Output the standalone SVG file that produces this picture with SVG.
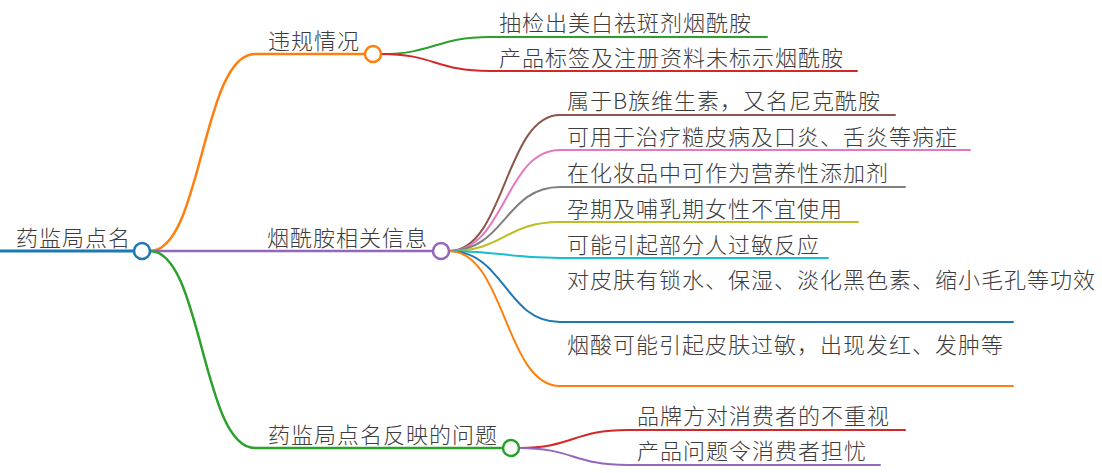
<svg xmlns="http://www.w3.org/2000/svg" width="1102" height="473" viewBox="0 0 1102 473">
<style>
text{font-family:"Noto Sans CJK SC","Noto Sans",sans-serif;font-size:22px;letter-spacing:1px;font-weight:300;fill:#3c3c3c}
.l{fill:none;stroke-linecap:round}
.c{fill:#fff;stroke-width:2.5}
</style>
<rect width="1102" height="473" fill="#fff"/>
<g id="connectors">
<path class="l" d="M0,251 L134,251" stroke="#1f77b4" stroke-width="3"/>
<path class="l" d="M150,251 C202,251 202,54 255,54 L365,54" stroke="#ff7f0e" stroke-width="2.5"/>
<path class="l" d="M150,251 L433,251" stroke="#9467bd" stroke-width="2.5"/>
<path class="l" d="M150,251 C202,251 202,448 255,448 L503,448" stroke="#2ca02c" stroke-width="2.5"/>
<path class="l" d="M381,54 C435,54 435,37 490,37 L767,37" stroke="#2ca02c" stroke-width="2"/>
<path class="l" d="M381,54 C435,54 435,71 490,71 L857,71" stroke="#d62728" stroke-width="2"/>
<path class="l" d="M449,251 C505,251 505,115 560,115 L895,115" stroke="#8c564b" stroke-width="2"/>
<path class="l" d="M449,251 C505,251 505,150 560,150 L970,150" stroke="#e377c2" stroke-width="2"/>
<path class="l" d="M449,251 C505,251 505,187 560,187 L905,187" stroke="#7f7f7f" stroke-width="2"/>
<path class="l" d="M449,251 C505,251 505,222 560,222 L858,222" stroke="#bcbd22" stroke-width="2"/>
<path class="l" d="M449,251 C505,251 505,258 560,258 L828,258" stroke="#17becf" stroke-width="2"/>
<path class="l" d="M449,251 C505,251 505,322 560,322 L1013,322" stroke="#1f77b4" stroke-width="2"/>
<path class="l" d="M449,251 C505,251 505,386 560,386 L1013,386" stroke="#ff7f0e" stroke-width="2"/>
<path class="l" d="M519,448 C573,448 573,430 628,430 L905,430" stroke="#d62728" stroke-width="2"/>
<path class="l" d="M519,448 C573,448 573,465 628,465 L880,465" stroke="#9467bd" stroke-width="2"/>
</g>
<g id="root"><text x="16" y="245.5">药监局点名</text><circle class="c" cx="142" cy="251" r="8" stroke="#1f77b4"/></g>
<g id="n1"><text x="268" y="48.5">违规情况</text><circle class="c" cx="373" cy="54" r="8" stroke="#ff7f0e"/></g>
<g id="n1a"><text x="499" y="31">抽检出美白祛斑剂烟酰胺</text></g>
<g id="n1b"><text x="499" y="65.5">产品标签及注册资料未标示烟酰胺</text></g>
<g id="n2"><text x="267" y="245.5">烟酰胺相关信息</text><circle class="c" cx="441" cy="251" r="8" stroke="#9467bd"/></g>
<g id="n2a"><text x="567" y="109">属于B族维生素，又名尼克酰胺</text></g>
<g id="n2b"><text x="567" y="144.5">可用于治疗糙皮病及口炎、舌炎等病症</text></g>
<g id="n2c"><text x="567" y="181">在化妆品中可作为营养性添加剂</text></g>
<g id="n2d"><text x="567" y="216.5">孕期及哺乳期女性不宜使用</text></g>
<g id="n2e"><text x="567" y="252.5">可能引起部分人过敏反应</text></g>
<g id="n2f"><text x="567" y="288">对皮肤有锁水、保湿、淡化黑色素、缩小毛孔等功效</text></g>
<g id="n2g"><text x="567" y="352.5">烟酸可能引起皮肤过敏，出现发红、发肿等</text></g>
<g id="n3"><text x="268" y="442.5">药监局点名反映的问题</text><circle class="c" cx="511" cy="448" r="8" stroke="#2ca02c"/></g>
<g id="n3a"><text x="637" y="424">品牌方对消费者的不重视</text></g>
<g id="n3b"><text x="637" y="459">产品问题令消费者担忧</text></g>
</svg>
